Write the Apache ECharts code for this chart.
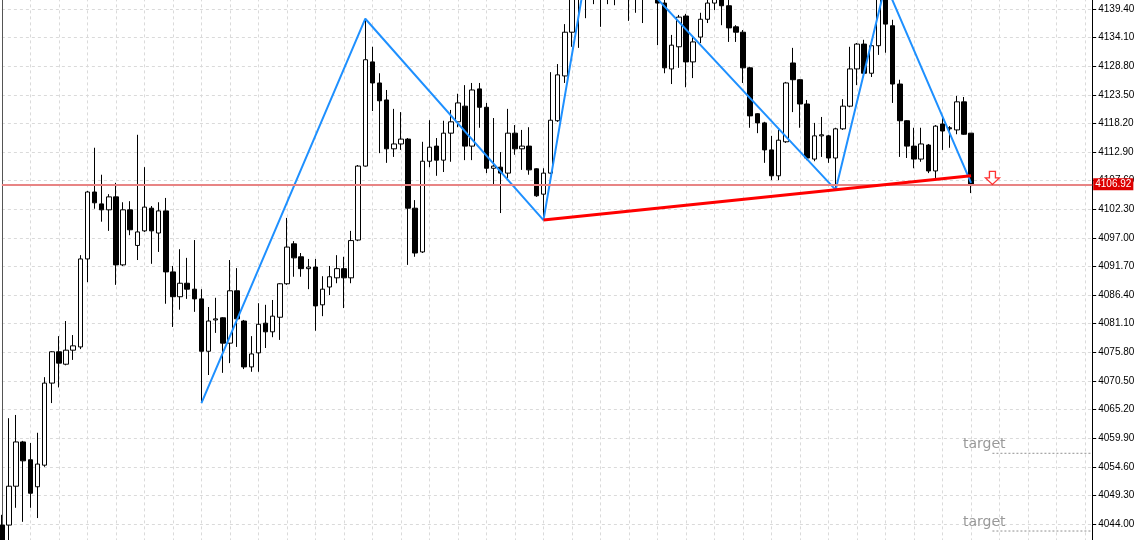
<!DOCTYPE html>
<html><head><meta charset="utf-8">
<script src="https://cdn.jsdelivr.net/npm/echarts/dist/echarts.min.js"></script>
<style>html,body{margin:0;padding:0;background:#fff}#c{width:1140px;height:540px}</style>
</head><body><div id="c"></div>
<script>
// bar slots on the time axis (candles + empty space on the right)
const barCount = 154;
// OHLC values (first is the half-hidden candle at the left edge)
const opens = [4043.8,
4043.8,4051.0,4059.2,4055.9,4050.9,4054.9,4070.1,4075.9,4073.6,4076.2,
4076.8,4093.1,4105.5,4103.3,4102.2,4104.6,4092.0,4102.2,4095.6,4098.3,
4102.5,4097.9,4102.0,4090.7,4086.1,4088.6,4087.5,4085.7,4076.0,4081.8,
4082.2,4077.5,4087.2,4081.6,4073.1,4075.7,4081.2,4079.6,4082.3,4088.5,
4095.9,4093.5,4091.3,4091.6,4084.6,4087.9,4089.6,4091.3,4089.6,4096.6,
4110.3,4129.6,4125.7,4122.55,4113.5,4114.4,4115.3,4102.5,4094.4,4111.2,
4114.0,4111.4,4116.4,4118.5,4121.4,4114.0,4124.6,4121.2,4109.9,4110.1,
4109.0,4116.4,4113.5,4114.0,4109.8,4105.1,4109.0,4118.7,4127.0,4135.1,
4141.6,4146.0,4150.0,4146.6,4143.0,4145.7,4143.3,4146.6,4143.9,4146.3,
4142.9,4144.8,4140.5,4128.3,4132.4,4138.1,4129.6,4134.2,4137.5,4140.5,
4141.6,4140.0,4136.1,4135.1,4128.5,4120.0,4118.3,4113.3,4108.5,4114.8,
4129.4,4126.3,4121.8,4111.6,4115.9,4115.9,4111.8,4117.2,4121.4,4128.3,
4132.9,4127.5,4132.6,4143.7,4136.3,4125.5,4118.7,4114.0,4111.6,4114.2,
4109.4,4118.1,4117.4,4117.0,4122.2,4116.4];
const closes = [4040.1,
4051.0,4059.2,4055.7,4049.7,4055.1,4070.1,4075.9,4073.8,4076.2,4077.0,
4093.1,4105.5,4103.5,4102.2,4104.6,4092.0,4102.2,4098.5,4098.1,4102.7,
4098.3,4102.0,4090.7,4086.1,4088.6,4087.5,4085.7,4076.0,4081.6,4082.0,
4077.5,4087.2,4082.0,4073.1,4075.5,4081.0,4079.6,4082.5,4088.5,4095.3,
4093.3,4091.3,4091.6,4084.4,4087.5,4089.8,4091.3,4089.6,4096.5,4110.3,
4130.0,4125.7,4122.4,4113.5,4114.4,4115.3,4102.5,4094.2,4111.2,4113.8,
4111.4,4116.4,4118.5,4122.0,4114.0,4124.4,4121.2,4109.9,4110.3,4109.0,
4116.4,4113.5,4114.0,4109.6,4104.8,4109.0,4118.8,4127.2,4135.1,4142.6,
4146.6,4150.3,4146.6,4142.9,4145.7,4143.3,4146.6,4143.9,4146.3,4142.9,
4144.8,4140.5,4128.5,4132.7,4137.9,4129.6,4133.3,4137.5,4140.5,4141.4,
4140.0,4135.9,4135.1,4128.5,4119.6,4118.3,4113.3,4108.5,4115.1,4125.7,
4126.3,4121.8,4111.8,4115.9,4116.1,4111.8,4117.2,4121.4,4128.3,4132.9,
4127.5,4132.6,4142.0,4136.6,4125.5,4118.7,4114.0,4111.6,4114.4,4109.4,
4117.7,4116.8,4117.2,4122.2,4116.2,4106.92];
const lows = [4037.3,
4040.1,4047.0,4044.4,4047.0,4045.1,4054.6,4066.4,4069.3,4073.4,4074.4,
4076.4,4088.8,4102.4,4100.0,4098.3,4088.3,4091.8,4097.5,4092.9,4098.1,
4092.2,4094.4,4084.8,4080.5,4083.7,4085.7,4083.3,4066.4,4071.6,4079.4,
4072.0,4073.8,4076.8,4072.7,4072.2,4072.2,4076.6,4078.6,4078.1,4088.3,
4089.8,4089.8,4087.5,4079.8,4082.5,4086.4,4088.6,4084.0,4088.6,4096.4,
4110.2,4120.5,4112.7,4110.9,4112.0,4113.3,4092.0,4093.5,4094.2,4110.1,
4108.5,4109.2,4111.1,4117.5,4111.4,4111.4,4117.4,4109.0,4106.8,4101.6,
4108.1,4112.4,4109.6,4108.7,4104.6,4100.3,4108.8,4118.5,4125.7,4132.4,
4132.2,4137.7,4140.3,4136.1,4140.3,4140.1,4141.8,4137.2,4138.7,4136.8,
4141.4,4132.7,4127.5,4125.5,4128.5,4124.9,4126.6,4133.1,4136.8,4139.2,
4136.4,4133.3,4133.3,4125.7,4117.4,4116.4,4110.9,4107.7,4107.7,4114.6,
4120.3,4117.4,4111.4,4111.2,4112.0,4110.9,4105.9,4117.0,4121.2,4125.3,
4127.4,4126.8,4130.9,4131.3,4122.0,4112.0,4111.8,4109.9,4111.1,4109.0,
4108.1,4113.3,4113.7,4116.2,4116.1,4105.3];
const highs = [4045.7,
4063.6,4064.2,4059.4,4059.0,4060.9,4071.2,4076.0,4078.8,4081.6,4079.0,
4093.8,4105.7,4113.7,4108.7,4105.1,4107.2,4103.6,4103.8,4116.1,4110.1,
4102.9,4103.6,4104.4,4091.8,4094.9,4093.3,4096.6,4087.5,4084.2,4085.9,
4082.3,4092.9,4091.4,4081.8,4078.8,4084.9,4084.6,4085.5,4088.6,4100.7,
4096.4,4094.2,4093.1,4093.1,4089.9,4091.8,4093.8,4093.5,4098.3,4110.5,
4137.6,4132.4,4127.5,4124.4,4120.9,4120.3,4115.5,4104.0,4114.8,4118.8,
4115.5,4118.7,4120.7,4123.7,4125.3,4125.7,4125.7,4122.0,4119.2,4112.9,
4120.9,4117.9,4117.0,4117.5,4109.9,4109.9,4127.7,4129.2,4136.6,4143.8,
4148.5,4152.2,4154.0,4149.4,4147.5,4148.5,4149.4,4150.0,4149.4,4148.5,
4147.6,4145.7,4141.07,4134.6,4138.3,4138.5,4134.4,4138.7,4141.6,4142.2,
4142.6,4141.07,4136.4,4135.5,4128.7,4120.1,4118.5,4115.9,4117.0,4125.9,
4132.2,4126.4,4122.55,4118.3,4119.4,4116.1,4117.4,4122.7,4132.4,4133.1,
4133.7,4133.7,4142.9,4144.0,4137.4,4126.3,4118.8,4117.4,4117.4,4114.4,
4117.9,4119.2,4117.7,4123.3,4123.1,4116.4];

// zigzag pivots (bar index, price)
const zigzagIdx = [28, 51, 76, 83, 117, 124, 136];
const zigzagVal = [4066.4, 4137.6, 4100.3, 4154.0, 4105.9, 4144.0, 4107.2];
// neckline
const necklineIdx = [76, 136];
const necklineVal = [4100.3, 4108.5];
// current price
const currentPrice = 4106.92;
// targets
const targetVals = [4057.1, 4042.7];
const targetText = 'target';
const targetTextIdx = 135, targetStartIdx = 139, targetEndIdx = 153;
// signal arrow
const arrowIdx = 139, arrowVal = 4108.1;
// price axis
const yMin = 4038.7, yMax = 4144.7, yStep = 5.3;

const cats = Array.from({length: barCount}, (_, i) => String(i));
const candles = opens.map((o, i) => [o, closes[i], lows[i], highs[i]]);

const chart = echarts.init(document.getElementById('c'), null, {renderer: 'canvas'});
const series = [
  {
    type: 'candlestick', data: candles, barWidth: 5, z: 2,
    itemStyle: {color: '#ffffff', color0: '#000000', borderColor: '#000000', borderColor0: '#000000', borderWidth: 1},
    markLine: {
      silent: true, symbol: 'none', animation: false,
      data: [{yAxis: currentPrice}],
      lineStyle: {color: '#e88484', width: 2, type: 'solid'},
      label: {show: true, position: 'end', distance: 1, formatter: currentPrice.toFixed(2),
        color: '#ffffff', backgroundColor: '#dd0000', fontSize: 10, fontFamily: 'Liberation Sans', padding: [1, 2, 1, 2]}
    }
  },
  {
    type: 'line', data: zigzagIdx.map((x, i) => [x, zigzagVal[i]]), symbol: 'none', z: 4,
    lineStyle: {color: '#1e90ff', width: 2}
  },
  {
    type: 'line', data: necklineIdx.map((x, i) => [x, necklineVal[i]]), symbol: 'none', z: 5,
    lineStyle: {color: '#ff0000', width: 3}
  },
  ...targetVals.map(v => ({
    type: 'line', data: [[targetStartIdx, v], [targetEndIdx, v]], symbol: 'none', z: 3,
    lineStyle: {color: '#909090', width: 1, type: [2, 2]}
  })),
  {
    type: 'scatter', data: targetVals.map(v => [targetTextIdx, v]), symbolSize: 0, z: 6,
    label: {show: true, formatter: targetText, position: [-1, -16], color: '#808080', fontSize: 14, fontFamily: 'DejaVu Sans'}
  },
  {
    type: 'scatter', data: [[arrowIdx, arrowVal]], z: 6,
    symbol: 'path://M4,0 L10,0 L10,7 L14,7 L7,14 L0,7 L4,7 Z', symbolSize: [14, 13],
    itemStyle: {color: '#ffffff', borderColor: '#ff0000', borderWidth: 1.3}
  }
];

chart.setOption({
  animation: false,
  backgroundColor: '#ffffff',
  grid: {left: 1.87, right: 47.8, top: -19.61, bottom: -12.61, containLabel: false, outerBoundsMode: 'none'},
  xAxis: {
    type: 'category', data: cats, boundaryGap: false,
    axisLine: {show: false}, axisTick: {show: false}, axisLabel: {show: false},
    splitLine: {show: true, interval: 3, lineStyle: {color: '#dadada', type: [3, 3], width: 1}}
  },
  yAxis: [
    {
      type: 'value', position: 'right', min: yMin, max: yMax, interval: yStep,
      axisLine: {show: true, lineStyle: {color: '#000000', width: 1}},
      axisTick: {show: true, length: 4, lineStyle: {color: '#000000'}},
      axisLabel: {fontSize: 10, fontFamily: 'Liberation Sans', color: '#000000', margin: 6,
        formatter: v => v.toFixed(2)},
      splitLine: {show: true, lineStyle: {color: '#dadada', type: [3, 3], width: 1}}
    },
    {
      type: 'value', position: 'left', min: yMin, max: yMax, interval: yStep,
      axisLine: {show: true, lineStyle: {color: '#555555', width: 1}},
      axisTick: {show: false}, axisLabel: {show: false}, splitLine: {show: false}
    }
  ],
  series: series
});
</script>
</body></html>
